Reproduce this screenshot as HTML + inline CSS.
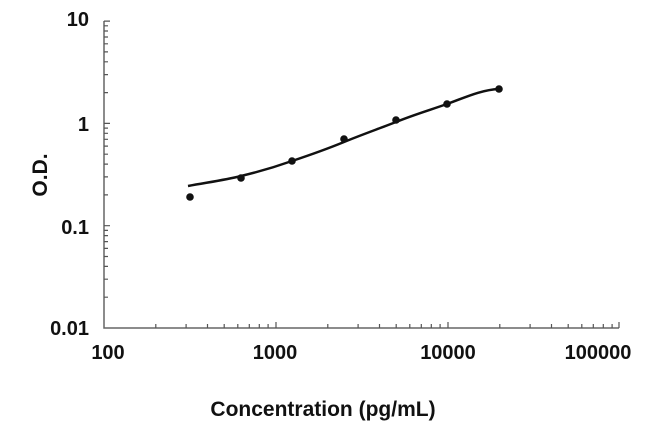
<!DOCTYPE html>
<html><head><style>body{margin:0;background:#fff}</style></head><body>
<svg width="650" height="439" xmlns="http://www.w3.org/2000/svg" font-family="Liberation Sans, Arial, sans-serif" font-weight="bold">
<g stroke="#666" stroke-width="1.5" fill="none">
<path d="M104,21 V328 H619"/>
</g>
<g stroke="#555" stroke-width="1.2" fill="none">
<path d="M155.8,328v-4M186.1,328v-4M207.5,328v-4M224.2,328v-4M237.8,328v-4M249.3,328v-4M259.3,328v-4M268.1,328v-4M276,328v-6
M327.8,328v-4M358.1,328v-4M379.5,328v-4M396.2,328v-4M409.8,328v-4M421.3,328v-4M431.3,328v-4M440.1,328v-4M448,328v-6
M499.8,328v-4M530.1,328v-4M551.5,328v-4M568.2,328v-4M581.8,328v-4M593.3,328v-4M603.3,328v-4M612.1,328v-4M619,328v-6"/>
<path d="M104,297.2h4M104,279.2h4M104,266.4h4M104,256.5h4M104,248.4h4M104,241.6h4M104,235.6h4M104,230.4h4M104,225.7h6
M104,194.9h4M104,176.9h4M104,164.1h4M104,154.2h4M104,146.1h4M104,139.3h4M104,133.3h4M104,128.1h4M104,123.4h6
M104,92.6h4M104,74.6h4M104,61.8h4M104,51.9h4M104,43.8h4M104,37h4M104,31h4M104,25.8h4M104,21.1h6"/>
</g>
<g font-size="20" fill="#111" text-anchor="end">
<text x="89" y="26">10</text>
<text x="89" y="131">1</text>
<text x="89" y="234">0.1</text>
<text x="89" y="335">0.01</text>
</g>
<g font-size="20" fill="#111" text-anchor="middle">
<text x="108" y="359">100</text>
<text x="275" y="359">1000</text>
<text x="448" y="359">10000</text>
<text x="598" y="359">100000</text>
</g>
<text x="323" y="416" font-size="21" text-anchor="middle" fill="#111">Concentration (pg/mL)</text>
<text transform="translate(47,175) rotate(-90)" font-size="21" text-anchor="middle" fill="#111">O.D.</text>
<path d="M188,186 C210,182 225,180 241,176 C258,172 275,167 292,161 C310,155 327,149 344,142 C361,135 378,129 396,122 C413,115 430,110 447,104 C464,98 480,90 499,89" stroke="#111" stroke-width="2.5" fill="none"/>
<g fill="#111">
<circle cx="190" cy="197" r="3.8"/><circle cx="241" cy="178" r="3.8"/><circle cx="292" cy="161" r="3.8"/>
<circle cx="344" cy="139" r="3.8"/><circle cx="396" cy="120" r="3.8"/><circle cx="447" cy="104" r="3.8"/><circle cx="499" cy="89" r="3.8"/>
</g>
</svg>
</body></html>
